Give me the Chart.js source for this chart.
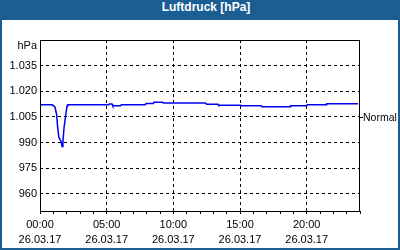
<!DOCTYPE html>
<html>
<head>
<meta charset="utf-8">
<script src="https://cdn.jsdelivr.net/npm/chart.js@4"></script>
<style>
  html, body { margin: 0; padding: 0; }
  body { width: 400px; height: 250px; background: #1b5e93; position: relative; overflow: hidden; }
  #title { position: absolute; left: 0; top: 0; width: 412px; height: 20px; line-height: 20px; text-align: center;
           color: #fff; font: bold 12px "Liberation Sans", Arial, sans-serif; }
  #box { position: absolute; left: 2px; top: 20px; width: 396px; height: 228px; background: #fff; }
  canvas { display: block; }
</style>
</head>
<body>
<div id="title">Luftdruck [hPa]</div>
<div id="box"><canvas id="chart" width="396" height="228"></canvas></div>
<script>
// pressure readings over the day (hours since 00:00)
const hours = [0, 0.92, 1.12, 1.25, 1.33, 1.42, 1.58, 1.65, 1.72, 1.8, 1.93, 2.03, 2.08,
  5.15, 5.2, 5.4, 5.45, 6.05, 6.1, 7.9, 7.95, 8.5, 8.55, 9.2, 9.25, 12.4, 12.5, 13.35, 13.4,
  15.05, 15.1, 16.6, 16.65, 18.75, 18.8, 20.0, 20.05, 21.45, 21.5, 23.85];
const pressure = [1012.1, 1012.1, 1010.8, 1006.3, 998.5, 993.0, 990.7, 987.7, 990.7, 998.5, 1006.3, 1011.5, 1012.1,
  1012.1, 1012.6, 1012.6, 1011.6, 1011.6, 1012.1, 1012.1, 1012.9, 1012.9, 1013.6, 1013.6, 1013.2, 1013.2, 1012.5, 1012.5, 1011.9,
  1011.9, 1011.5, 1011.5, 1010.9, 1010.9, 1011.5, 1011.5, 1012.1, 1012.1, 1012.7, 1012.7];

const yTicks = [960, 975, 990, 1005, 1020, 1035];
const unitTick = 1046.5;
const normalValue = 1004.5;
const xTickHours = [0, 5, 10, 15, 20];
const dateLabel = '26.03.17';

const fmtHpa = v => v >= 1000 ? Math.floor(v / 1000) + '.' + String(v % 1000).padStart(3, '0') : String(v);
const pad = n => String(n).padStart(2, '0');

const frame = {
  id: 'frame',
  afterDraw(chart) {
    const a = chart.chartArea, ctx = chart.ctx;
    ctx.save();
    ctx.strokeStyle = '#000';
    ctx.lineWidth = 1;
    ctx.strokeRect(a.left + 0.5, a.top + 0.5, a.right - a.left - 1, a.bottom - a.top);
    ctx.restore();
  }
};

Chart.defaults.font.family = '"Liberation Sans", Arial, sans-serif';
Chart.defaults.font.size = 11;
Chart.defaults.color = '#000';

new Chart(document.getElementById('chart'), {
  type: 'line',
  data: {
    datasets: [{
      data: hours.map((h, i) => ({ x: h, y: pressure[i] })),
      borderColor: '#0000f0',
      borderWidth: 1.5,
      pointRadius: 0,
      tension: 0,
      fill: false
    }]
  },
  options: {
    responsive: false,
    animation: false,
    layout: { padding: { top: 20 } },
    plugins: { legend: { display: false }, tooltip: { enabled: false } },
    scales: {
      x: {
        type: 'linear', min: 0, max: 24,
        afterBuildTicks: s => { s.ticks = Array.from({ length: 25 }, (_, i) => ({ value: i })); },
        afterFit: s => { s.height = 37; },
        border: { display: false, dash: [3, 3] },
        grid: {
          color: c => (c.tick && c.tick.value % 5 === 0 && c.tick.value > 0 && c.tick.value < 24) ? '#000' : 'rgba(0,0,0,0)',
          tickColor: '#000', tickLength: 3, tickBorderDash: []
        },
        ticks: {
          autoSkip: false, maxRotation: 0, padding: 3,
          font: { lineHeight: 1.4 },
          callback: v => xTickHours.includes(v) ? [pad(v) + ':00', dateLabel] : ''
        }
      },
      y: {
        min: 950, max: 1050,
        afterBuildTicks: s => { s.ticks = yTicks.concat([unitTick]).map(v => ({ value: v })); },
        afterFit: s => { s.width = 38; },
        border: { display: false, dash: [3, 3] },
        grid: {
          drawTicks: false,
          color: c => (c.tick && c.tick.value === unitTick) ? 'rgba(0,0,0,0)' : '#000'
        },
        ticks: { padding: 3, callback: v => v === unitTick ? 'hPa' : fmtHpa(v) }
      },
      y2: {
        position: 'right', min: 950, max: 1050,
        afterBuildTicks: s => { s.ticks = [{ value: normalValue }]; },
        afterFit: s => { s.width = 38; },
        border: { display: false },
        grid: { drawOnChartArea: false, color: '#000', tickLength: 3 },
        ticks: { padding: 0, font: { size: 10.5 }, callback: () => 'Normal' }
      }
    }
  },
  plugins: [frame]
});
</script>
</body>
</html>
